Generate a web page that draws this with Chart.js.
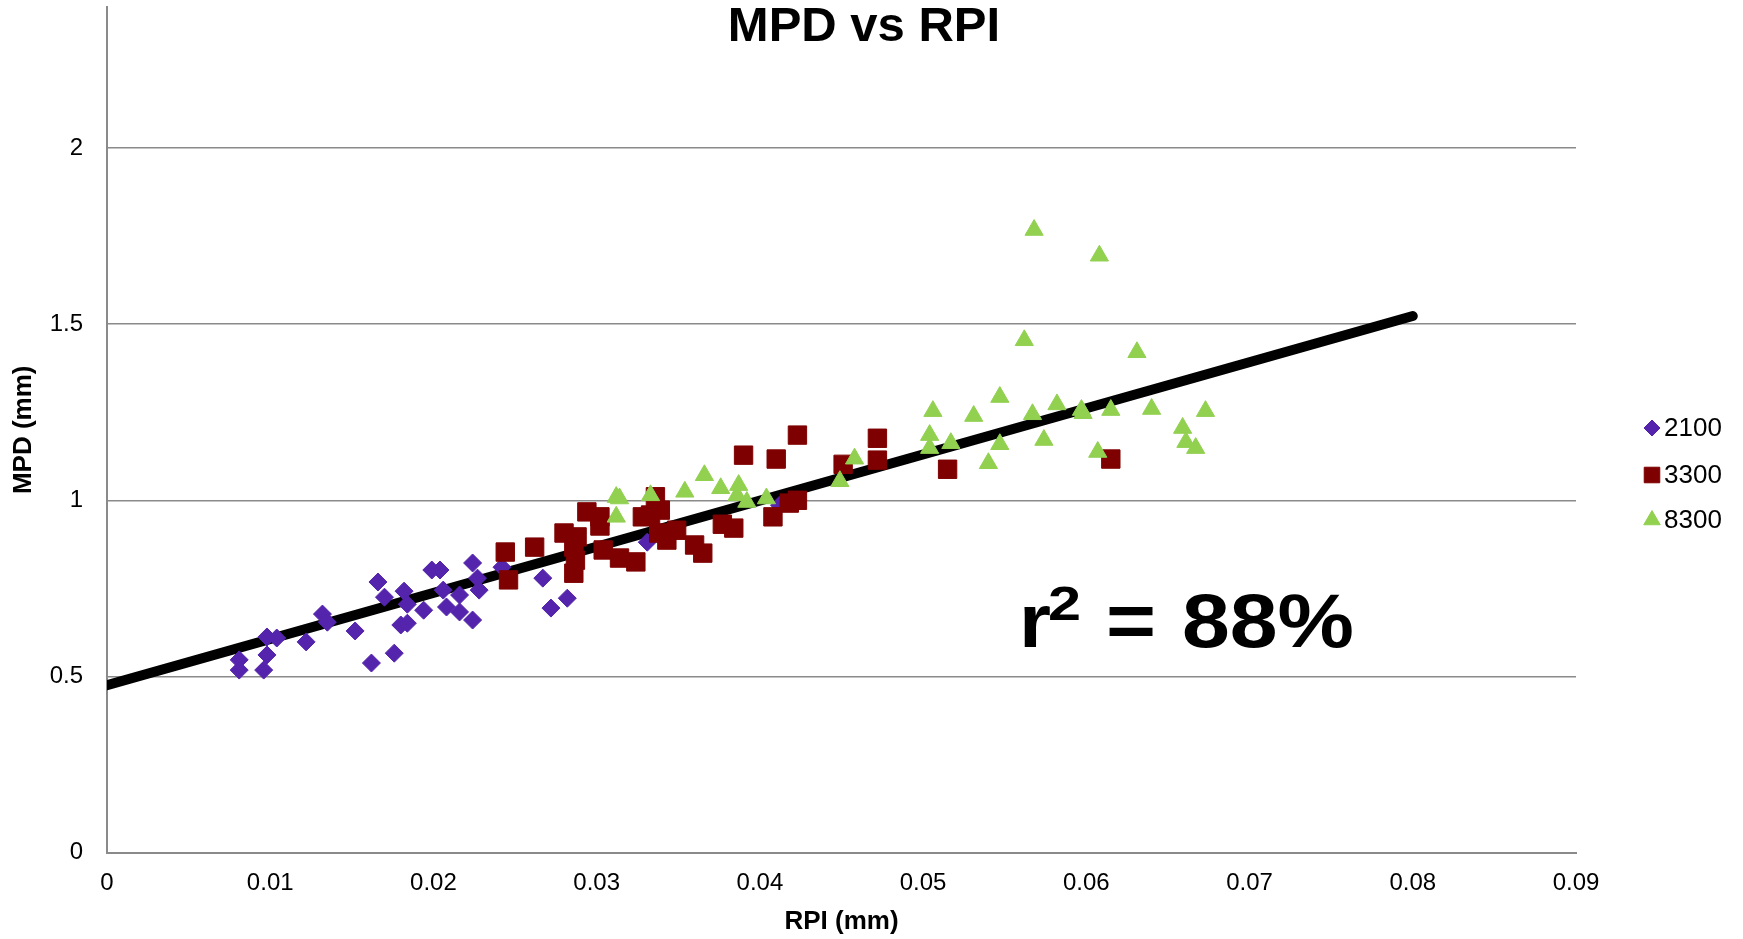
<!DOCTYPE html>
<html>
<head>
<meta charset="utf-8">
<title>MPD vs RPI</title>
<script src="https://cdn.jsdelivr.net/npm/chart.js@4.4.1/dist/chart.umd.min.js"></script>
<style>
    html, body { margin: 0; padding: 0; background: #fff; }
    #wrap { width: 1743px; height: 939px; }
</style>
</head>
<body>
<div id="wrap"><canvas id="grafico" width="1743" height="939"></canvas></div>
<script>
// ── Dados ──
const rpi2100 = [0.0081,0.0081,0.0096,0.0098,0.0098,0.0104,0.0122,0.0132,0.0135,0.0152,0.0162,0.0176,
                 0.0166,0.0170,0.0182,0.0184,0.0194,0.0180,0.0184,0.0199,0.0204,0.0206,0.0208,0.0216,
                 0.0216,0.0224,0.0224,0.0227,0.0228,0.0242,0.0267,0.0272,0.0282,0.0331,0.0412];
const mpd2100 = [0.547,0.518,0.518,0.561,0.612,0.609,0.598,0.677,0.654,0.629,0.538,0.566,
                 0.768,0.725,0.742,0.705,0.688,0.646,0.651,0.802,0.802,0.745,0.697,0.731,
                 0.683,0.660,0.822,0.779,0.745,0.810,0.779,0.694,0.722,0.881,0.986];

const rpi3300 = [0.0244,0.0246,0.0262,0.0280,0.0288,0.0286,0.0287,0.0286,0.0294,0.0302,0.0302,0.0304,
                 0.0314,0.0324,0.0328,0.0336,0.0339,0.0333,0.0338,0.0343,0.0349,0.0360,0.0365,0.0377,
                 0.0384,0.0390,0.0410,0.0423,0.0408,0.0418,0.0423,0.0451,0.0472,0.0472,0.0515,0.0615];
const mpd3300 = [0.853,0.774,0.867,0.907,0.896,0.867,0.830,0.793,0.967,0.953,0.927,0.859,
                 0.836,0.825,0.953,1.010,0.972,0.958,0.907,0.887,0.915,0.873,0.850,0.932,
                 0.921,1.128,1.117,1.185,0.953,0.992,1.000,1.102,1.176,1.114,1.088,1.117];

const rpi8300 = [0.0312,0.0314,0.0312,0.0333,0.0354,0.0366,0.0376,0.0387,0.0386,0.0392,0.0404,0.0449,
                 0.0458,0.0504,0.0504,0.0506,0.0517,0.0531,0.0540,0.0547,0.0547,0.0562,0.0568,0.0567,
                 0.0574,0.0582,0.0597,0.0598,0.0607,0.0608,0.0615,0.0631,0.0640,0.0659,0.0661,0.0667,0.0673];
const mpd8300 = [1.009,1.005,0.953,1.014,1.024,1.071,1.034,1.043,1.014,0.995,1.005,1.054,
                 1.118,1.185,1.148,1.253,1.162,1.239,1.105,1.293,1.159,1.454,1.767,1.244,
                 1.171,1.272,1.256,1.247,1.137,1.694,1.256,1.420,1.259,1.205,1.165,1.148,1.253];

// linha de tendência (ponta a ponta)
const trendX = [0, 0.08];
const trendY = [0.475, 1.523];

const xTicks = [0, 0.01, 0.02, 0.03, 0.04, 0.05, 0.06, 0.07, 0.08, 0.09];
const yTicks = [0, 0.5, 1, 1.5, 2];

const FONTE = "'Liberation Sans', Arial, sans-serif";
const CINZA = '#8a8a8a';

const SERIES = [
    { label: '2100', cor: '#5424ac', estilo: 'rectRot',  raio: 9,    raioLeg: 8,   x: rpi2100, y: mpd2100, ordem: 3 },
    { label: '3300', cor: '#7f0000', estilo: 'rect',     raio: 13,   raioLeg: 11,  x: rpi3300, y: mpd3300, ordem: 2 },
    { label: '8300', cor: '#92d050', estilo: 'triangle', raio: 10.5, raioLeg: 9.5, x: rpi8300, y: mpd8300, ordem: 1 },
];

function pares(xs, ys) {
    return xs.map((x, i) => ({ x, y: ys[i] }));
}

// ── Título, legenda e r² desenhados por cima ──
const extras = {
    id: 'extras',
    afterDraw(chart) {
        const ctx = chart.ctx;
        ctx.save();
        ctx.fillStyle = '#000';
        ctx.textBaseline = 'alphabetic';

        // título
        ctx.font = `bold 49px ${FONTE}`;
        ctx.textAlign = 'center';
        ctx.fillText('MPD vs RPI', 864, 41);

        // legenda
        const ys = [428, 475, 520];
        ctx.textAlign = 'left';
        ctx.textBaseline = 'middle';
        ctx.font = `26px ${FONTE}`;
        SERIES.forEach((s, i) => {
            ctx.fillStyle = s.cor;
            ctx.strokeStyle = s.cor;
            ctx.lineWidth = 1;
            Chart.helpers.drawPoint(ctx, { pointStyle: s.estilo, radius: s.raioLeg, borderWidth: 1, rotation: 0 }, 1652, ys[i]);
            ctx.fillStyle = '#000';
            ctx.fillText(s.label, 1664, ys[i] + 1);
        });

        // r² = 88%
        ctx.textBaseline = 'alphabetic';
        ctx.fillStyle = '#000';
        texto(ctx, 'r', `bold 76px ${FONTE}`, 1019, 647, 32);
        texto(ctx, '2', `bold 48px ${FONTE}`, 1048, 620, 33);
        texto(ctx, '=', `bold 76px ${FONTE}`, 1106, 647, 50);
        texto(ctx, '88%', `bold 76px ${FONTE}`, 1182, 647, 172);
        ctx.restore();
    }
};

// escreve um texto esticado até a largura pedida
function texto(ctx, t, font, x, y, largura) {
    ctx.font = font;
    const w = ctx.measureText(t).width;
    ctx.save();
    ctx.translate(x, y);
    ctx.scale(largura / w, 1);
    ctx.textAlign = 'left';
    ctx.fillText(t, 0, 0);
    ctx.restore();
}

const datasets = SERIES.map(s => ({
    label: s.label,
    data: pares(s.x, s.y),
    pointStyle: s.estilo,
    pointRadius: s.raio,
    pointHoverRadius: s.raio,
    backgroundColor: s.cor,
    borderColor: s.cor,
    pointBorderWidth: 1,
    order: s.ordem,
}));

datasets.push({
    label: 'tendência',
    data: pares(trendX, trendY),
    showLine: true,
    borderColor: '#000',
    borderWidth: 10,
    borderCapStyle: 'round',
    pointRadius: 0,
    order: 10,
});

new Chart(document.getElementById('grafico'), {
    type: 'scatter',
    data: { datasets },
    options: {
        responsive: false,
        animation: false,
        devicePixelRatio: 1,
        layout: { autoPadding: false, padding: { top: 7, right: 167, bottom: 0, left: 0 } },
        plugins: {
            legend: { display: false },
            tooltip: { enabled: false },
            title: { display: false },
        },
        scales: {
            x: {
                type: 'linear',
                min: 0,
                max: 0.09,
                afterFit: s => { s.height = 86.4; s.paddingLeft = 0; s.paddingRight = 0; },
                afterBuildTicks: s => { s.ticks = xTicks.map(v => ({ value: v })); },
                grid: { display: false, drawTicks: false },
                border: { display: true, color: CINZA, width: 2 },
                ticks: {
                    color: '#000',
                    padding: 16,
                    font: { family: FONTE, size: 24 },
                    callback: v => String(+v.toFixed(2)),
                },
                title: {
                    display: true,
                    text: 'RPI (mm)',
                    color: '#000',
                    font: { family: FONTE, size: 26, weight: 'bold' },
                    padding: { top: 0, bottom: 2 },
                },
            },
            y: {
                type: 'linear',
                min: 0,
                max: 2.4,
                // o padding dos ticks empurrava o topo do gráfico para baixo
                afterFit: s => { s.width = 107; s.paddingTop = 0; s.paddingBottom = 0; },
                afterBuildTicks: s => { s.ticks = yTicks.map(v => ({ value: v })); },
                grid: { color: CINZA, lineWidth: 1.5, drawTicks: false },
                border: { display: true, color: CINZA, width: 2 },
                ticks: {
                    color: '#000',
                    padding: 24,
                    font: { family: FONTE, size: 24 },
                    callback: v => String(v),
                },
                title: {
                    display: true,
                    text: 'MPD (mm)',
                    color: '#000',
                    font: { family: FONTE, size: 26, weight: 'bold' },
                    padding: { top: 8, bottom: 0 },
                },
            },
        },
    },
    plugins: [extras],
});
</script>
</body>
</html>
